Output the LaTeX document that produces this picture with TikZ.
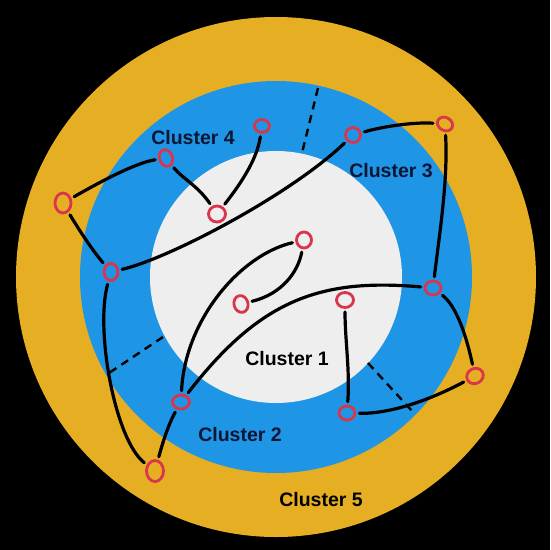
\documentclass[tikz,border=0pt]{standalone}
\usepackage{fontspec}
\setmainfont{Liberation Sans}
\usetikzlibrary{shapes.geometric}
\definecolor{ringyellow}{HTML}{E6AE22}
\definecolor{ringblue}{HTML}{1F95E6}
\definecolor{coregray}{HTML}{EEEEEE}
\definecolor{nodered}{HTML}{D9364C}
\definecolor{navy}{HTML}{0C1533}
\tikzset{
  nd/.style={ellipse, draw=nodered, line width=2.8pt, inner sep=0pt, minimum width=15pt, minimum height=15pt},
  link/.style={line width=3.2pt, line cap=round, shorten <=3pt, shorten >=3pt},
  divider/.style={line width=2.4pt, dash pattern=on 8pt off 6pt},
  lbl/.style={font=\fontsize{19.5}{20}\selectfont\bfseries}
}
\begin{document}
\begin{tikzpicture}[x=1pt,y=-1pt]
\fill[black] (0,0) rectangle (550,550);
\useasboundingbox (0,0) rectangle (550,550);
% rings
\fill[ringyellow] (276,277) circle[radius=260];
\fill[ringblue] (276,277) circle[radius=196];
\fill[coregray] (276,277) circle[radius=126];
% dividers
\coordinate (d1a) at (318,88);  \coordinate (d1b) at (302,153);
\coordinate (d2a) at (163,337); \coordinate (d2b) at (106,375);
\coordinate (d3a) at (368,363); \coordinate (d3b) at (413,412);
\draw[divider] (d1a) -- (d1b);
\draw[divider] (d2a) -- (d2b);
\draw[divider] (d3a) -- (d3b);
% labels
\node[lbl, text=navy] (l4) at (193,138) {Cluster 4};
\node[lbl, text=navy] (l3) at (391,171) {Cluster 3};
\node[lbl, text=black] (l1) at (287,359) {Cluster 1};
\node[lbl, text=navy] (l2) at (240,435) {Cluster 2};
\node[lbl, text=black] (l5) at (321,500) {Cluster 5};
% nodes
\node[nd, minimum width=15pt, minimum height=13pt] (A) at (262,126) {};
\node[nd, minimum width=13pt, minimum height=17pt, rotate=20] (B) at (166,158) {};
\node[nd, minimum width=17pt, minimum height=16pt] (C) at (217,214) {};
\node[nd, minimum width=16pt, minimum height=20pt] (D) at (63,203) {};
\node[nd, minimum width=14pt, minimum height=17pt] (E) at (111,272) {};
\node[nd, minimum width=15pt, minimum height=15pt] (F) at (353,135) {};
\node[nd, minimum width=16pt, minimum height=13pt, rotate=-30] (G) at (445,124) {};
\node[nd, minimum width=15pt, minimum height=16pt] (H) at (304,240) {};
\node[nd, minimum width=14pt, minimum height=17pt, rotate=15] (I) at (241,304) {};
\node[nd, minimum width=17pt, minimum height=15pt] (J) at (345,300) {};
\node[nd, minimum width=16pt, minimum height=14pt] (K) at (433,288) {};
\node[nd, minimum width=17pt, minimum height=15pt, rotate=30] (L) at (475,376) {};
\node[nd, minimum width=16pt, minimum height=14pt] (M) at (347,413) {};
\node[nd, minimum width=17pt, minimum height=14pt] (N) at (181,402) {};
\node[nd, minimum width=17pt, minimum height=21pt] (O) at (155,471) {};
% connectors
\draw[link] (D) .. controls (100,182) and (135,163) .. (B);
\draw[link] (D) .. controls (76,225) and (92,250) .. (E);
\draw[link] (B) .. controls (182,178) and (198,186) .. (C);
\draw[link] (A) .. controls (258,152) and (250,172) .. (C);
\draw[link] (E) .. controls (170,258) and (290,195) .. (F);
\draw[link] (F) .. controls (385,126) and (415,122) .. (G);
\draw[link] (G) .. controls (448,180) and (440,230) .. (K);
\draw[link] (K) .. controls (455,305) and (465,330) .. (L);
\draw[link] (L) .. controls (430,400) and (390,414) .. (M);
\draw[link] (J) .. controls (345,340) and (350,370) .. (M);
\draw[link] (K) .. controls (320,278) and (260,300) .. (N);
\draw[link] (H) .. controls (298,272) and (282,294) .. (I);
\draw[link] (H) .. controls (240,255) and (185,320) .. (N);
\draw[link] (N) .. controls (168,425) and (162,445) .. (O);
\draw[link] (E) .. controls (95,330) and (115,440) .. (O);
\end{tikzpicture}
\end{document}
